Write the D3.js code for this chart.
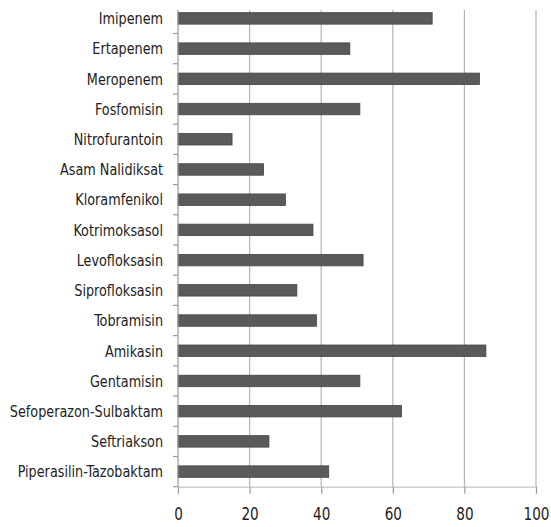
<!DOCTYPE html>
<html>
<head>
<meta charset="utf-8">
<script src="https://cdn.jsdelivr.net/npm/d3@7"></script>
<style>
  body { margin: 0; background: #fff; }
  text { font-family: "DejaVu Sans Condensed", "DejaVu Sans", sans-serif; fill: #222; }
</style>
</head>
<body>
<svg id="chart" width="551" height="527"></svg>
<script>
// antibiotics, top to bottom
const drugs = [
  "Imipenem", "Ertapenem", "Meropenem", "Fosfomisin", "Nitrofurantoin",
  "Asam Nalidiksat", "Kloramfenikol", "Kotrimoksasol", "Levofloksasin",
  "Siprofloksasin", "Tobramisin", "Amikasin", "Gentamisin",
  "Sefoperazon-Sulbaktam", "Seftriakson", "Piperasilin-Tazobaktam"
];
const values = [71, 48, 84.2, 50.8, 15.1, 23.9, 30, 37.7, 51.7, 33.2, 38.7, 86, 50.8, 62.4, 25.4, 42.1];
const xTicks = [0, 20, 40, 60, 80, 100];

const svg = d3.select("#chart");
const plotL = 178, plotR = 536, plotT = 3.3, plotB = 486.7, gridTop = 10;

const x = d3.scaleLinear().domain([0, 100]).range([plotL, plotR]);
const y = d3.scaleBand().domain(drugs).range([plotT, plotB])
  .paddingInner(0.62).paddingOuter(0.31);
const step = y.step();

// gridlines
svg.append("g").selectAll("line")
  .data(xTicks.slice(1))
  .join("line")
  .attr("x1", d => x(d)).attr("x2", d => x(d))
  .attr("y1", gridTop).attr("y2", plotB)
  .attr("stroke", "#b4b4b4").attr("stroke-width", 1.2);

// bars
svg.append("g").selectAll("rect")
  .data(drugs)
  .join("rect")
  .attr("x", plotL)
  .attr("y", d => y(d))
  .attr("width", (d, i) => x(values[i]) - plotL)
  .attr("height", y.bandwidth())
  .attr("fill", "#5a5a5a")
  .attr("stroke", "#454545").attr("stroke-width", 0.8);

// y axis line + boundary ticks
const yAxis = svg.append("g").attr("stroke", "#9a9a9a").attr("stroke-width", 1.2);
yAxis.append("line")
  .attr("x1", plotL).attr("x2", plotL).attr("y1", gridTop).attr("y2", plotB);
yAxis.selectAll(".tk")
  .data(d3.range(1, drugs.length + 1))
  .join("line")
  .attr("class", "tk")
  .attr("x1", plotL - 5).attr("x2", plotL)
  .attr("y1", i => plotT + i * step).attr("y2", i => plotT + i * step);

// category labels (squeezed to mimic the narrow original font)
svg.append("g").selectAll("g")
  .data(drugs)
  .join("g")
  .attr("transform", d => `translate(163,${y(d) + y.bandwidth() / 2}) scale(0.89,1)`)
  .append("text")
  .attr("dy", "0.36em")
  .attr("text-anchor", "end")
  .attr("font-size", 16)
  .text(d => d);

// x axis
const xAxis = svg.append("g").attr("transform", `translate(0,${plotB})`)
  .call(d3.axisBottom(x).tickValues(xTicks).tickSize(7).tickSizeOuter(0).tickPadding(14));
xAxis.select(".domain").attr("stroke", "#c4c4c4").attr("stroke-width", 1.2);
xAxis.selectAll(".tick line").attr("stroke", "#9a9a9a").attr("stroke-width", 1.2);
xAxis.selectAll(".tick text")
  .attr("font-size", 18).attr("font-family", "DejaVu Sans Condensed").attr("fill", "#222")
  .attr("transform", "scale(0.84,1)")
  .attr("x", 0);
</script>
</body>
</html>
